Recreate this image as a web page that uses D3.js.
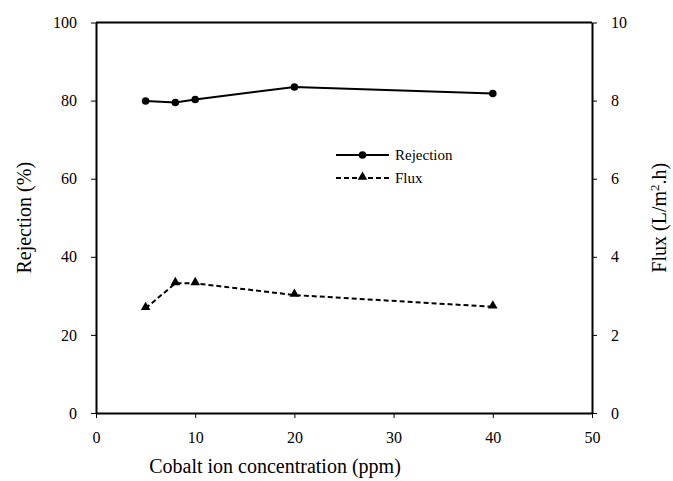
<!DOCTYPE html>
<html>
<head>
<meta charset="utf-8">
<script src="https://cdn.jsdelivr.net/npm/d3@7"></script>
<style>
  body { margin: 0; background: #fff; }
</style>
</head>
<body>
<div id="chart"></div>
<script>
// data
const concentration = [5, 8, 10, 20, 40];
const rejection = [79.9, 79.5, 80.3, 83.5, 81.8];
const flux = [2.68, 3.32, 3.32, 3.02, 2.72];
const xTicks = [0, 10, 20, 30, 40, 50];
const leftTicks = [0, 20, 40, 60, 80, 100];
const rightTicks = [0, 2, 4, 6, 8, 10];

const width = 673, height = 481;
const margin = { top: 22.5, right: 81, bottom: 68, left: 96 };
const serif = "'Liberation Serif', 'Times New Roman', Times, 'DejaVu Serif', serif";

const svg = d3.select("#chart").append("svg")
  .attr("width", width)
  .attr("height", height)
  .style("font-family", serif);

const x = d3.scaleLinear().domain([0, 50]).range([margin.left, width - margin.right]);
const yL = d3.scaleLinear().domain([0, 100]).range([height - margin.bottom, margin.top]);
const yR = d3.scaleLinear().domain([0, 10]).range([height - margin.bottom, margin.top]);

// frame top line
svg.append("line")
  .attr("x1", x(0)).attr("x2", x(50))
  .attr("y1", yL(100)).attr("y2", yL(100))
  .attr("stroke", "#000").attr("stroke-width", 2);

const styleAxis = g => {
  g.attr("font-family", null).attr("font-size", null);
  g.select(".domain").attr("stroke-width", 2);
  g.selectAll(".tick line").attr("stroke-width", 1);
  g.selectAll(".tick text").style("font-size", "16px").style("font-family", serif);
};

svg.append("g")
  .attr("transform", `translate(0,${yL(0)})`)
  .call(d3.axisBottom(x).tickValues(xTicks).tickSize(5).tickSizeOuter(0).tickPadding(14))
  .call(styleAxis);

svg.append("g")
  .attr("transform", `translate(${x(0)},0)`)
  .call(d3.axisLeft(yL).tickValues(leftTicks).tickSize(5).tickSizeOuter(0).tickPadding(14))
  .call(styleAxis);

svg.append("g")
  .attr("transform", `translate(${x(50)},0)`)
  .call(d3.axisRight(yR).tickValues(rightTicks).tickSize(5).tickSizeOuter(0).tickPadding(14))
  .call(styleAxis);

// lines
const rejLine = d3.line().x((d, i) => x(concentration[i])).y(d => yL(d));
const fluxLine = d3.line().x((d, i) => x(concentration[i])).y(d => yR(d));

svg.append("path")
  .datum(rejection)
  .attr("d", rejLine)
  .attr("fill", "none").attr("stroke", "#000").attr("stroke-width", 2);

svg.append("path")
  .datum(flux)
  .attr("d", fluxLine)
  .attr("fill", "none").attr("stroke", "#000").attr("stroke-width", 2)
  .attr("stroke-dasharray", "5,3");

const circle = d3.symbol().type(d3.symbolCircle).size(45);
const tri = d3.symbol().type(d3.symbolTriangle).size(40);

svg.append("g").selectAll("path")
  .data(rejection)
  .join("path")
  .attr("d", circle)
  .attr("transform", (d, i) => `translate(${x(concentration[i])},${yL(d)})`)
  .attr("fill", "#000");

svg.append("g").selectAll("path")
  .data(flux)
  .join("path")
  .attr("d", tri)
  .attr("transform", (d, i) => `translate(${x(concentration[i])},${yR(d) - 1})`)
  .attr("fill", "#000");

// legend
const legend = svg.append("g").attr("transform", "translate(336,155)");
legend.append("line").attr("x1", 0).attr("x2", 53).attr("y1", 0).attr("y2", 0)
  .attr("stroke", "#000").attr("stroke-width", 2);
legend.append("path").attr("d", circle).attr("transform", "translate(26.5,0)").attr("fill", "#000");
legend.append("text").attr("x", 59).attr("y", 5).style("font-size", "15px").text("Rejection");

legend.append("line").attr("x1", 0).attr("x2", 53).attr("y1", 23).attr("y2", 23)
  .attr("stroke", "#000").attr("stroke-width", 2).attr("stroke-dasharray", "5,3");
legend.append("path").attr("d", tri).attr("transform", "translate(26.5,22)").attr("fill", "#000");
legend.append("text").attr("x", 59).attr("y", 28).style("font-size", "15px").text("Flux");

// axis titles
svg.append("text")
  .attr("x", 275).attr("y", 473)
  .attr("text-anchor", "middle")
  .style("font-size", "20px")
  .text("Cobalt ion concentration (ppm)");

svg.append("text")
  .attr("transform", `translate(31,${(yL(0) + yL(100)) / 2}) rotate(-90)`)
  .attr("text-anchor", "middle")
  .style("font-size", "20px")
  .text("Rejection (%)");

const ft = svg.append("text")
  .attr("transform", `translate(666,${(yL(0) + yL(100)) / 2}) rotate(-90)`)
  .attr("text-anchor", "middle")
  .style("font-size", "20px");
ft.append("tspan").text("Flux (L/m");
ft.append("tspan").attr("dy", -7).style("font-size", "13px").text("2");
ft.append("tspan").attr("dy", 7).text(".h)");
</script>
</body>
</html>
